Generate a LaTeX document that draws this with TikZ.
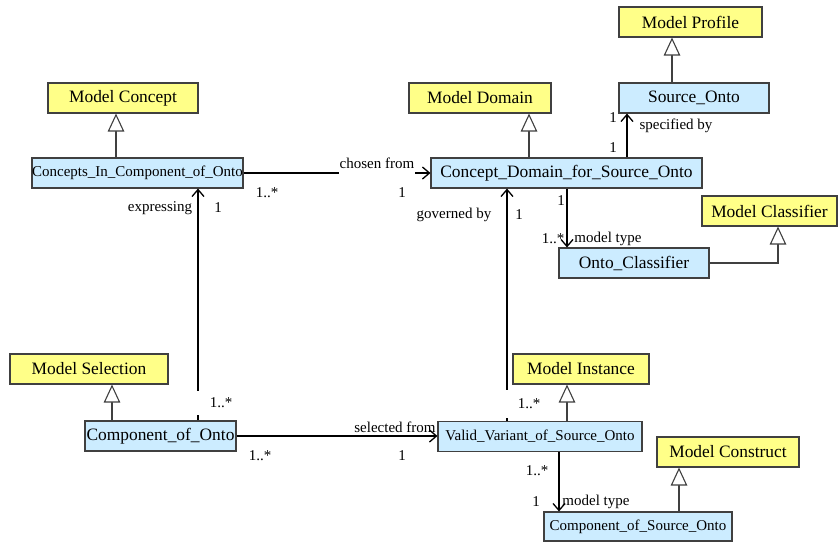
\documentclass[tikz,border=0pt]{standalone}
\usepackage{fontspec}
\setmainfont{Liberation Serif}
\usetikzlibrary{arrows.meta}
\definecolor{ylw}{RGB}{255,255,136}
\definecolor{blu}{RGB}{204,236,255}
\definecolor{bord}{RGB}{64,64,64}
\tikzset{
 box/.style={draw=bord, line width=1.1pt, rectangle, inner sep=0pt, anchor=center, minimum height=30pt, font=\fontsize{17.4}{20}\selectfont},
 ybox/.style={box, fill=ylw},
 bbox/.style={box, fill=blu},
 smallf/.style={font=\fontsize{15}{18}\selectfont},
 gen/.style={draw=bord, line width=1.1pt, -{Triangle[open, length=18pt, width=16.5pt, fill=white]}},
 assoc/.style={draw=black, line width=1.3pt, -{Straight Barb[length=7pt, width=12pt]}},
 lab/.style={font=\fontsize{15}{18}\selectfont, inner sep=0pt, anchor=center},
}
\begin{document}
\begin{tikzpicture}[x=1pt,y=-1pt]
\useasboundingbox (0,0) rectangle (838,542);
% column helpers
\foreach \n/\v in {c112/112,c116/116,c198/198,c507/507,c529/529,c559/559,c567/567,c627/627,c672/672,c679/679,c778/778}
  {\coordinate (\n) at (\v,0);}
% boxes
\node[ybox, minimum width=143pt] (mprof) at (690.5,22) {Model Profile};
\node[ybox, minimum width=150pt] (mconc) at (123,98) {Model Concept};
\node[ybox, minimum width=142pt] (mdom) at (480,98) {Model Domain};
\node[bbox, minimum width=150pt] (src) at (694,98) {Source\_Onto};
\node[bbox, smallf, minimum width=211pt] (cic) at (137.5,173) {Concepts\_In\_Component\_of\_Onto};
\node[bbox, minimum width=271pt] (cds) at (566.5,173) {Concept\_Domain\_for\_Source\_Onto};
\node[ybox, minimum width=135pt] (mcls) at (769.5,211) {Model Classifier};
\node[bbox, minimum width=150pt] (ocls) at (634,263) {Onto\_Classifier};
\node[ybox, minimum width=158pt] (msel) at (89,369) {Model Selection};
\node[bbox, minimum width=151pt] (coo) at (160.5,436) {Component\_of\_Onto};
\node[ybox, minimum width=136pt] (minst) at (581,369) {Model Instance};
\node[bbox, smallf, minimum width=204pt] (vv) at (540,436.5) {Valid\_Variant\_of\_Source\_Onto};
\node[ybox, minimum width=142pt] (mcons) at (728,452) {Model Construct};
\node[bbox, smallf, minimum width=188pt, minimum height=29pt] (cso) at (638,526.5) {Component\_of\_Source\_Onto};
% generalizations
\draw[gen] (cic.north -| c116) -- (mconc.south -| c116);
\draw[gen] (cds.north -| c529) -- (mdom.south -| c529);
\draw[gen] (src.north -| c672) -- (mprof.south -| c672);
\draw[gen] (ocls.east) -| (c778 |- mcls.south);
\draw[gen] (coo.north -| c112) -- (msel.south -| c112);
\draw[gen] (vv.north -| c567) -- (minst.south -| c567);
\draw[gen] (cso.north -| c679) -- (mcons.south -| c679);
% associations
\draw[assoc] (cic.east) -- (cds.west);
\draw[assoc] (cds.north -| c627) -- (src.south -| c627);
\draw[assoc] (cds.south -| c567) -- (ocls.north -| c567);
\draw[assoc] (coo.north -| c198) -- (cic.south -| c198);
\draw[assoc] (vv.north -| c507) -- (cds.south -| c507);
\draw[assoc] (coo.east) -- (vv.west |- coo.east);
\draw[assoc] (vv.south -| c559) -- (cso.north -| c559);
% labels
\node[lab, fill=white, anchor=base, text depth=6pt, inner xsep=1pt] (lchosen) at (377,168) {chosen from};
\node[lab] (lcm1) at (267,193) {1..*};
\node[lab] (lcm2) at (402,193) {1};
\node[lab] (lexp) at (160,208) {expressing};
\node[lab] (lexp1) at (218,208) {1};
\node[lab] (lgov) at (454,215) {governed by};
\node[lab] (lgov1) at (519,215) {1};
\node[lab] (lsp1) at (613,118) {1};
\node[lab] (lspec) at (676,126) {specified by};
\node[lab] (lsp2) at (613,148) {1};
\node[lab] (lmt1) at (561,201) {1};
\node[lab] (lmt2) at (553,239) {1..*};
\node[lab] (lmt) at (608,239) {model type};
\node[lab, fill=white, minimum width=52pt, minimum height=24pt] (lexpm) at (221,403) {1..*};
\node[lab, fill=white, minimum width=50pt, minimum height=28pt] (lgovm) at (529,404) {1..*};
\node[lab] (lsel) at (395,427) {selected from};
\node[lab] (lsel1) at (260,456) {1..*};
\node[lab] (lsel2) at (402,456) {1};
\node[lab] (lmt3) at (537,471) {1..*};
\node[lab] (lmt4) at (536,502) {1};
\node[lab] (lmtb) at (596,502) {model type};
\end{tikzpicture}
\end{document}
